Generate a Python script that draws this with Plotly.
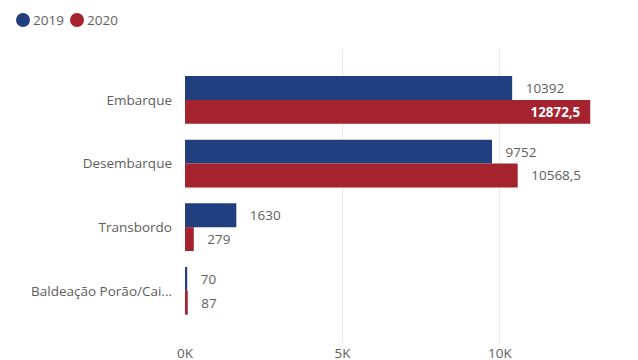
import plotly.graph_objects as go

categories = ["Embarque", "Desembarque", "Transbordo", "Baldeação Porão/Cai..."]
series_names = ["2019", "2020"]
values_2019 = [10392, 9752, 1630, 70]
values_2020 = [12872.5, 10568.5, 279, 87]
x_tickvals = [0, 5000, 10000]
x_ticktext = ["0K", "5K", "10K"]

BLUE = "#213F7E"
RED = "#A4232F"
GRAY = "#605E5C"
FONT = "Open Sans"
FS = 13.5


def fmt(v):
    s = ("%g" % v)
    return s.replace(".", ",")


xmax = 13500
PLOT_W = 425
PLOT_H = 294
ML = 177
MT = 41
FIG_W, FIG_H = 630, 352

fig = go.Figure()


def add_series(name, vals, color):
    inside = [v > xmax * 0.9 for v in vals]
    fig.add_trace(go.Bar(
        name=name, y=categories, x=vals, orientation="h",
        marker=dict(color=color, line=dict(width=0)),
        text=[("<b>" + fmt(v) + "</b>  ") if i else ("   " + fmt(v)) for v, i in zip(vals, inside)],
        textposition=["inside" if i else "outside" for i in inside],
        insidetextanchor="end",
        textfont=dict(family=FONT, size=FS,
                      color=["white" if i else GRAY for i in inside]),
        cliponaxis=False,
        showlegend=False,
        hoverinfo="x+y",
    ))


add_series(series_names[0], values_2019, BLUE)
add_series(series_names[1], values_2020, RED)


# legend drawn as circles + text (figure pixel positions converted to paper coords)
def px_x(p):
    return (p - ML) / PLOT_W


def px_y(p):
    return 1 + (MT - p) / PLOT_H


legend_y = 12
legend_items = [(15, series_names[0], BLUE), (69, series_names[1], RED)]
shapes = []
annotations = []
for cx, name, color in legend_items:
    shapes.append(dict(
        type="circle", xref="paper", yref="paper",
        xsizemode="pixel", ysizemode="pixel",
        xanchor=px_x(cx), yanchor=px_y(legend_y),
        x0=-7, x1=7, y0=-7, y1=7,
        fillcolor=color, line=dict(width=0),
    ))
    annotations.append(dict(
        text=name, xref="paper", yref="paper",
        x=px_x(cx + 8), y=px_y(legend_y), xanchor="left", yanchor="middle",
        showarrow=False, font=dict(size=FS, color=GRAY), xshift=0,
    ))

fig.update_layout(
    width=FIG_W, height=FIG_H,
    margin=dict(l=ML, r=FIG_W - ML - PLOT_W, t=MT, b=FIG_H - MT - PLOT_H, autoexpand=False),
    paper_bgcolor="white", plot_bgcolor="white",
    barmode="group", bargap=0.25, bargroupgap=0,
    font=dict(family=FONT, color=GRAY, size=FS),
    showlegend=False,
    shapes=shapes,
    annotations=annotations,
    xaxis=dict(range=[0, xmax], tickvals=x_tickvals, ticktext=x_ticktext,
               showgrid=True, gridcolor="#E8E8E8", gridwidth=1,
               zeroline=False, showline=False, automargin=False,
               ticklabelstandoff=0,
               tickfont=dict(size=FS, color=GRAY), ticks=""),
    yaxis=dict(categoryorder="array", categoryarray=categories,
               range=[3.82, -0.8], showgrid=False, zeroline=False,
               showline=False, ticks="", ticklabelstandoff=12,
               automargin=False,
               tickfont=dict(size=FS, color=GRAY)),
)

fig.write_html("out.html")
